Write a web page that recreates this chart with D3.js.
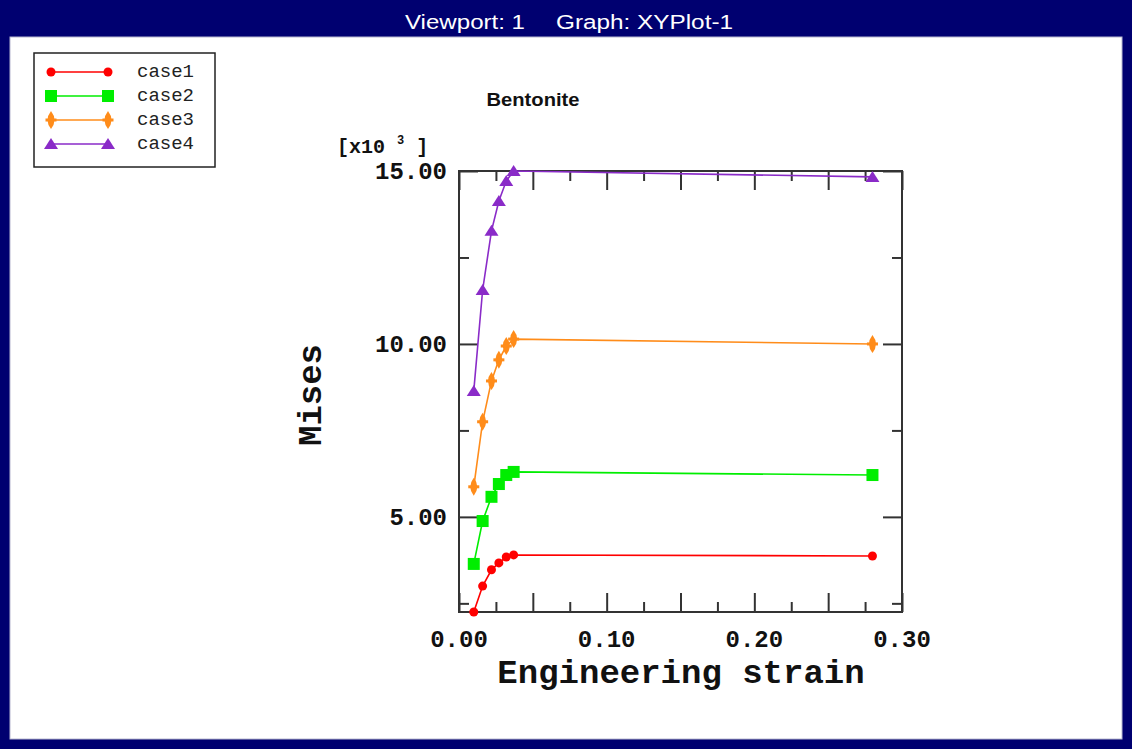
<!DOCTYPE html>
<html>
<head>
<meta charset="utf-8">
<script src="https://cdn.jsdelivr.net/npm/d3@7/dist/d3.min.js"></script>
<style>
  html, body { margin: 0; padding: 0; background: #fff; }
  svg { display: block; }
</style>
</head>
<body>
<svg id="chart" width="1132" height="749"></svg>
<script>
// ---- data ----
const seriesNames = ["case1", "case2", "case3", "case4"];
const strain = [0.010, 0.016, 0.022, 0.027, 0.032, 0.037, 0.280];
const case1 = [2.25, 3.00, 3.47, 3.67, 3.84, 3.90, 3.87];
const case2 = [3.64, 4.88, 5.58, 5.95, 6.21, 6.30, 6.21];
const case3 = [5.87, 7.75, 8.93, 9.54, 9.94, 10.14, 10.00];
const case4 = [8.64, 11.56, 13.27, 14.13, 14.71, 15.00, 14.83];
const xTickLabels = [0.0, 0.1, 0.2, 0.3];
const yTickLabels = [5, 10, 15];

const series = [case1, case2, case3, case4];
const colors = ["#ff0000", "#00ee00", "#ff8c1a", "#8a2bc8"];
const shapes = ["circle", "square", "spindle", "triangle"];

const svg = d3.select("#chart");

// frame
svg.append("rect").attr("x", 0).attr("y", 0).attr("width", 1132).attr("height", 749).attr("fill", "#000070");
svg.append("rect").attr("x", 10).attr("y", 37).attr("width", 1112).attr("height", 702).attr("fill", "#ffffff")
  .attr("stroke", "#b8b8d0").attr("stroke-width", 1);
svg.append("text").attr("x", 405).attr("y", 29).attr("fill", "#fff")
  .attr("font-family", "Liberation Sans, Arial, sans-serif").attr("font-size", 20)
  .attr("textLength", 120).attr("lengthAdjust", "spacingAndGlyphs").text("Viewport: 1");
svg.append("text").attr("x", 556).attr("y", 29).attr("fill", "#fff")
  .attr("font-family", "Liberation Sans, Arial, sans-serif").attr("font-size", 20)
  .attr("textLength", 177).attr("lengthAdjust", "spacingAndGlyphs").text("Graph: XYPlot-1");

// scales
const L = 459, R = 902, T = 171, B = 612;
const x = d3.scaleLinear().domain([0, 0.3]).range([L, R]);
const y = d3.scaleLinear().domain([d3.min(case1), d3.max(case4)]).range([B, T]);

const mono = "Liberation Mono, Courier New, monospace";
const axisColor = "#333333";

// ticks via d3 axes (inward)
const xMajor = d3.range(0, 0.3001, 0.05);
const xMinor = d3.range(0.025, 0.3, 0.05);
const yMajor = [5, 10, 15];
const yMinor = [2.5, 7.5, 12.5];

function styleAxis(g) {
  g.select(".domain").remove();
  g.selectAll("line").attr("stroke", axisColor).attr("stroke-width", 2);
  g.selectAll("text").remove();
}
svg.append("g").attr("transform", `translate(0,${B})`).call(d3.axisTop(x).tickValues(xMajor).tickSize(19)).call(styleAxis);
svg.append("g").attr("transform", `translate(0,${B})`).call(d3.axisTop(x).tickValues(xMinor).tickSize(10)).call(styleAxis);
svg.append("g").attr("transform", `translate(0,${T})`).call(d3.axisBottom(x).tickValues(xMajor).tickSize(19)).call(styleAxis);
svg.append("g").attr("transform", `translate(0,${T})`).call(d3.axisBottom(x).tickValues(xMinor).tickSize(10)).call(styleAxis);
svg.append("g").attr("transform", `translate(${L},0)`).call(d3.axisRight(y).tickValues(yMajor).tickSize(19)).call(styleAxis);
svg.append("g").attr("transform", `translate(${L},0)`).call(d3.axisRight(y).tickValues(yMinor).tickSize(10)).call(styleAxis);
svg.append("g").attr("transform", `translate(${R},0)`).call(d3.axisLeft(y).tickValues(yMajor).tickSize(19)).call(styleAxis);
svg.append("g").attr("transform", `translate(${R},0)`).call(d3.axisLeft(y).tickValues(yMinor).tickSize(10)).call(styleAxis);

// box
svg.append("rect").attr("x", L).attr("y", T).attr("width", R - L).attr("height", B - T)
  .attr("fill", "none").attr("stroke", axisColor).attr("stroke-width", 2);

// tick labels
svg.append("g").selectAll("text").data(xTickLabels).join("text")
  .attr("x", d => x(d)).attr("y", 647).attr("text-anchor", "middle")
  .attr("font-family", mono).attr("font-size", 24).attr("font-weight", "600").attr("fill", "#111")
  .text(d => d3.format(".2f")(d));
svg.append("g").selectAll("text").data(yTickLabels).join("text")
  .attr("x", 447).attr("y", d => y(d) + 8).attr("text-anchor", "end")
  .attr("font-family", mono).attr("font-size", 24).attr("font-weight", "600").attr("fill", "#111")
  .text(d => d3.format(".2f")(d));

// multiplier
const mult = svg.append("text").attr("x", 337).attr("y", 153)
  .attr("font-family", mono).attr("font-size", 20).attr("font-weight", "600").attr("fill", "#111");
mult.append("tspan").text("[x10 ");
mult.append("tspan").attr("font-size", 12).attr("dy", -9).text("3");
mult.append("tspan").attr("dy", 9).text(" ]");

// axis titles
svg.append("text").attr("x", 681).attr("y", 683).attr("text-anchor", "middle")
  .attr("font-family", mono).attr("font-size", 34).attr("font-weight", "bold").attr("fill", "#111")
  .text("Engineering strain");
svg.append("text").attr("transform", "translate(321,395) rotate(-90)").attr("text-anchor", "middle")
  .attr("font-family", mono).attr("font-size", 34).attr("font-weight", "bold").attr("fill", "#111")
  .text("Mises");

// chart title
svg.append("text").attr("x", 533).attr("y", 106).attr("text-anchor", "middle")
  .attr("font-family", "Liberation Sans, Arial, sans-serif").attr("font-size", 18).attr("font-weight", "bold")
  .attr("fill", "#111").attr("textLength", 93).attr("lengthAdjust", "spacingAndGlyphs").text("Bentonite");

// marker drawing
function marker(g, shape, color, cx, cy) {
  if (shape === "circle") {
    g.append("circle").attr("cx", cx).attr("cy", cy).attr("r", 4.5).attr("fill", color);
  } else if (shape === "square") {
    g.append("rect").attr("x", cx - 6).attr("y", cy - 6).attr("width", 12).attr("height", 12).attr("fill", color);
  } else if (shape === "spindle") {
    g.append("path").attr("d", `M${cx},${cy - 9} Q${cx + 7},${cy} ${cx},${cy + 9} Q${cx - 7},${cy} ${cx},${cy - 9}Z`).attr("fill", color);
    g.append("rect").attr("x", cx - 5.5).attr("y", cy - 1.5).attr("width", 11).attr("height", 3).attr("fill", color);
  } else if (shape === "triangle") {
    g.append("path").attr("d", `M${cx - 7},${cy + 5} L${cx + 7},${cy + 5} L${cx},${cy - 6}Z`).attr("fill", color);
  }
}

// series
const line = d3.line().x((d, i) => x(strain[i])).y(d => y(d));
series.forEach((vals, si) => {
  const g = svg.append("g");
  g.append("path").datum(vals).attr("d", line).attr("fill", "none")
    .attr("stroke", colors[si]).attr("stroke-width", 1.6);
  vals.forEach((v, i) => marker(g, shapes[si], colors[si], x(strain[i]), y(v)));
});

// legend
const leg = svg.append("g");
leg.append("rect").attr("x", 34).attr("y", 53).attr("width", 181).attr("height", 114)
  .attr("fill", "#fff").attr("stroke", "#222").attr("stroke-width", 1.5);
seriesNames.forEach((name, i) => {
  const ly = 72 + i * 24;
  leg.append("line").attr("x1", 51).attr("x2", 108).attr("y1", ly).attr("y2", ly)
    .attr("stroke", colors[i]).attr("stroke-width", 1.6);
  marker(leg, shapes[i], colors[i], 51, ly);
  marker(leg, shapes[i], colors[i], 108, ly);
  leg.append("text").attr("x", 137).attr("y", ly + 5).attr("font-family", mono).attr("font-size", 19)
    .attr("fill", "#222").text(name);
});
</script>
</body>
</html>
